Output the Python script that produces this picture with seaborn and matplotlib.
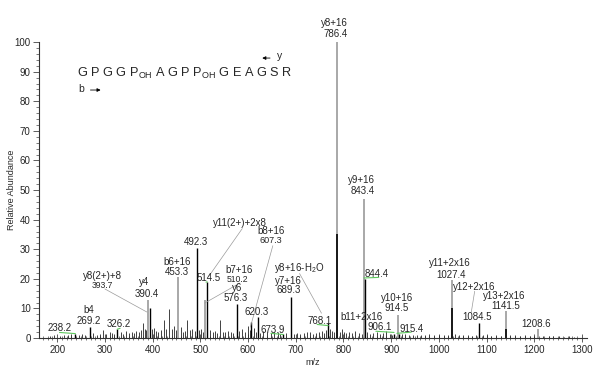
import numpy as np
import matplotlib
matplotlib.use("Agg")
import matplotlib.pyplot as plt
import seaborn as sns

# labelled peaks (m/z, relative abundance)
peak_mz = [238.2, 269.2, 326.2, 390.4, 393.7, 453.3, 492.3, 510.2, 514.5,
           576.3, 607.3, 620.3, 673.9, 689.3, 768.1, 786.4, 843.4, 844.4,
           906.1, 914.5, 915.4, 1027.4, 1084.5, 1141.5, 1208.6]
peak_int = [1.5, 3.7, 3.0, 13.0, 10.0, 20.6, 30.4, 12.8, 19.0,
            11.4, 5.4, 7.0, 1.5, 14.0, 5.0, 100.0, 47.0, 20.0,
            1.5, 7.8, 1.5, 19.6, 5.0, 9.0, 3.0]
gray_peaks = [390.4, 453.3, 510.2, 786.4, 843.4, 914.5, 1027.4, 1141.5, 1208.6]

# black lower part drawn over some gray peaks
overlay_mz = [786.4, 1027.4, 1141.5]
overlay_int = [35.0, 10.0, 3.0]

# unlabelled peaks
other_mz = [186, 194, 205, 214, 222, 230, 245, 252, 258, 276, 284, 290, 296,
            303, 310, 316, 320, 333, 339, 344, 350, 356, 361, 366, 371, 376,
            380, 384, 387, 398, 402, 408, 412, 418, 423, 428, 434, 440, 445,
            449, 460, 464, 468, 473, 478, 483, 488, 497, 501, 505, 520, 526,
            531, 536, 541, 547, 552, 558, 564, 569, 582, 588, 594, 600, 604,
            612, 616, 626, 632, 640, 648, 655, 662, 668, 680, 696, 702, 710,
            718, 724, 730, 736, 742, 748, 755, 760, 764, 772, 776, 780, 792,
            796, 801, 806, 812, 818, 825, 832, 838, 850, 856, 862, 870, 876,
            882, 890, 897, 902, 922, 930, 938, 946, 955, 962, 970, 980, 990,
            1000, 1010, 1020, 1034, 1042, 1050, 1060, 1070, 1078, 1092, 1100,
            1110, 1120, 1130, 1150, 1160, 1170, 1180, 1190, 1200, 1218, 1230,
            1240, 1252, 1262, 1272, 1284]
other_int = [0.8, 1.0, 0.7, 1.2, 0.9, 1.4, 1.0, 1.3, 1.1, 1.6, 1.2, 1.5, 2.8,
             1.4, 2.2, 1.8, 1.3, 1.9, 1.5, 2.5, 1.7, 2.0, 1.6, 2.3, 1.9, 2.6,
             5.0, 3.2, 2.8, 3.0, 3.4, 2.4, 2.0, 2.7, 6.0, 2.9, 9.8, 3.1, 4.2,
             2.6, 3.6, 2.2, 2.5, 6.0, 2.8, 3.2, 2.4, 2.7, 3.0, 2.2, 2.6, 2.0,
             2.4, 1.8, 6.0, 2.2, 1.9, 2.5, 2.1, 1.7, 2.3, 3.0, 2.0, 4.0, 2.6,
             3.5, 2.1, 1.8, 2.4, 2.0, 1.6, 1.9, 2.0, 1.5, 1.8, 1.4, 1.7, 1.3,
             1.6, 1.9, 2.0, 1.5, 1.8, 2.2, 2.5, 1.8, 2.6, 3.0, 2.4, 1.9, 2.2,
             3.0, 2.0, 1.7, 2.0, 1.6, 2.5, 1.8, 1.5, 1.9, 1.4, 1.6, 2.0, 1.5,
             1.8, 2.5, 1.4, 1.2, 1.3, 1.5, 1.1, 1.2, 1.0, 0.9, 1.1, 1.5, 1.0,
             1.0, 0.9, 1.2, 1.5, 1.0, 1.1, 1.0, 0.8, 1.0, 0.9, 1.0,
             0.8, 1.0, 0.7, 0.9, 1.0, 0.7, 1.0, 0.6, 0.8, 0.7, 0.6,
             0.8, 0.6, 0.5, 0.6, 0.5]

# peak annotations: (text, x, y, fontsize)
labels = [
    ("y8+16", 781, 106.4, 7), ("786.4", 783, 102.7, 7),
    ("y9+16", 838, 53.4, 7), ("843.4", 840, 49.7, 7),
    ("y11(2+)+2x8", 582.5, 38.9, 7),
    ("b8+16", 649, 36.1, 7), ("607.3", 647, 32.8, 6.5),
    ("492.3", 490.5, 32.4, 7),
    ("b6+16", 450.7, 25.7, 7), ("453.3", 450.7, 22.3, 7),
    ("514.5", 517.6, 20.3, 7),
    ("b7+16", 580.4, 23.0, 7), ("510.2", 578.3, 19.8, 6.2),
    ("y6", 578.3, 16.9, 7), ("576.3", 574, 13.5, 7),
    ("y8+16-H$_2$O", 708, 23.6, 7),
    ("y7+16", 685, 19.3, 7), ("689.3", 685, 16.2, 7),
    ("620.3", 618, 8.8, 7),
    ("673.9", 651.5, 2.7, 7),
    ("768.1", 750, 5.7, 7),
    ("844.4", 869, 21.6, 7),
    ("b11+2x16", 838, 7.1, 7), ("906.1", 875, 3.7, 7),
    ("y10+16", 913, 13.5, 7), ("914.5", 911, 10.1, 7),
    ("915.4", 942, 3.0, 7),
    ("y11+2x16", 1022, 25.3, 7), ("1027.4", 1026, 21.3, 7),
    ("y12+2x16", 1074, 17.2, 7), ("1084.5", 1080, 7.1, 7),
    ("y13+2x16", 1137, 14.2, 7), ("1141.5", 1139, 10.8, 7),
    ("1208.6", 1204, 4.7, 7),
    ("y8(2+)+8", 294, 21.0, 7), ("393.7", 294, 17.7, 6.2),
    ("y4", 382, 18.9, 7), ("390.4", 388, 14.9, 7),
    ("b4", 266.6, 9.5, 7), ("269.2", 266.6, 5.7, 7),
    ("326.2", 329, 4.7, 7),
    ("238.2", 206, 3.4, 7),
]

# gray leader lines: (from x, from y) -> (to x, to y)
leaders = [
    ((588, 37.0), (517.6, 20.8)),
    ((652, 31.2), (605, 3.7)),
    ((583, 18.6), (509, 11.8)),
    ((708, 21.8), (754, 8.4)),
    ((1075, 15.8), (1068, 8.8)),
    ((300, 16.6), (388, 8.8)),
]

# green connectors from small labels to their peaks
green = [
    ((205, 1.9), (238.2, 1.5)),
    ((332, 3.3), (326.2, 3.0)),
    ((512, 18.9), (514.5, 19.0)),
    ((648, 1.6), (673.9, 1.2)),
    ((745, 4.6), (768.1, 4.2)),
    ((843, 20.3), (874, 20.5)),
    ((868, 2.3), (906.1, 1.9)),
    ((912, 1.6), (942, 2.0)),
]

sns.set_theme(style="ticks")
plt.rcParams["font.family"] = ["Liberation Sans", "DejaVu Sans"]
plt.rcParams["mathtext.fontset"] = "custom"
plt.rcParams["mathtext.rm"] = "Liberation Sans"
plt.rcParams["mathtext.it"] = "Liberation Sans"

fig = plt.figure(figsize=(6, 3.79), dpi=100)
ax = fig.add_axes([0.065, 0.108, 0.913, 0.781])

other_mz = np.array(other_mz)
other_int = np.array(other_int)
ax.vlines(other_mz, 0, other_int, color="#222222", lw=0.6)

pk_mz = np.array(peak_mz)
pk_int = np.array(peak_int)
is_gray = np.isin(pk_mz, gray_peaks)
ax.vlines(pk_mz[is_gray], 0, pk_int[is_gray], color="#9a9a9a", lw=1.2)
ax.vlines(pk_mz[~is_gray], 0, pk_int[~is_gray], color="black", lw=1.0)
ax.vlines(overlay_mz, 0, overlay_int, color="black", lw=1.2)

for txt, x, y, fs in labels:
    ax.text(x, y, txt, ha="center", va="center", fontsize=fs, clip_on=False)

for (x0, y0), (x1, y1) in leaders:
    ax.plot([x0, x1], [y0, y1], color="#9a9a9a", lw=0.5)

for (x0, y0), (x1, y1) in green:
    ax.plot([x0, x1], [y0, y1], color="#5fc95f", lw=0.8)

# peptide sequence with fragment direction arrows
ax.text(241.5, 89.5, r"G P G G P$_{\mathrm{OH}}$ A G P P$_{\mathrm{OH}}$ G E A G S R",
        fontsize=9.2, va="center", ha="left")
ax.annotate("", xy=(624, 94.6), xytext=(652, 94.6),
            arrowprops=dict(arrowstyle="-|>", color="black", lw=0.6,
                            mutation_scale=5))
ax.text(666, 95.3, "y", fontsize=7.5, va="center", ha="center")
ax.text(250, 84.1, "b", fontsize=7.5, va="center", ha="center")
ax.annotate("", xy=(297, 83.8), xytext=(264, 83.8),
            arrowprops=dict(arrowstyle="-|>", color="black", lw=0.6,
                            mutation_scale=5))

ax.set_xlim(162, 1310)
ax.set_ylim(0, 100)
ax.set_xticks(np.arange(200, 1301, 100))
ax.set_xticks(np.arange(170, 1310, 10), minor=True)
ax.set_yticks(np.arange(0, 101, 10))
ax.set_yticks(np.arange(0, 101, 2), minor=True)
ax.tick_params(axis="both", which="major", labelsize=7, length=4, width=0.6,
               color="#444444", pad=2)
ax.tick_params(axis="x", which="major", direction="inout", length=6)
ax.tick_params(axis="both", which="minor", length=2, width=0.5, color="#444444")
ax.tick_params(axis="x", which="minor", direction="inout", length=3)
for s in ["left", "bottom"]:
    ax.spines[s].set_linewidth(0.8)
    ax.spines[s].set_color("#333333")
sns.despine(ax=ax)

ax.set_xlabel("m/z", fontsize=6.5, labelpad=2)
ax.set_ylabel("Relative Abundance", fontsize=6.5, labelpad=-1)

fig.savefig("out.png", dpi=100)
